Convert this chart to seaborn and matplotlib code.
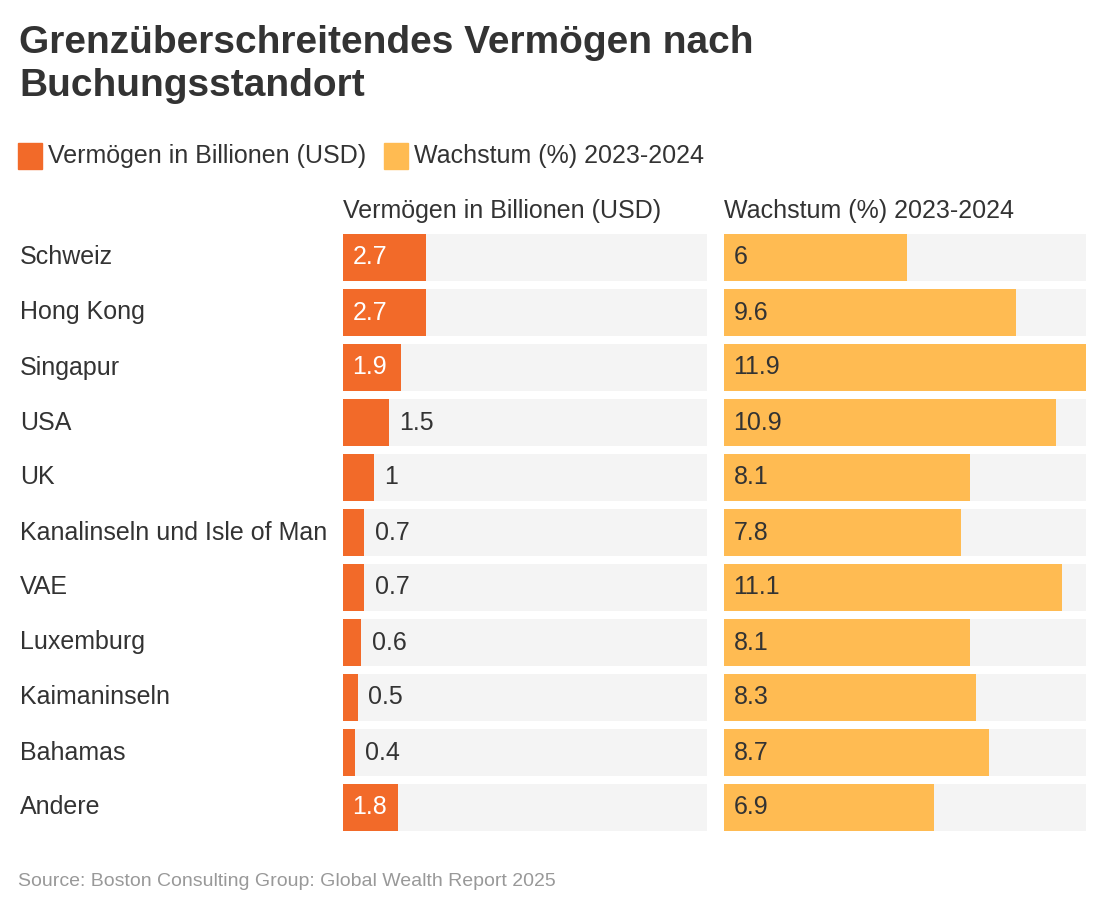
import pandas as pd
import matplotlib.pyplot as plt
import seaborn as sns

# Data
countries = ["Schweiz", "Hong Kong", "Singapur", "USA", "UK",
             "Kanalinseln und Isle of Man", "VAE", "Luxemburg",
             "Kaimaninseln", "Bahamas", "Andere"]
vermoegen = [2.7, 2.7, 1.9, 1.5, 1.0, 0.7, 0.7, 0.6, 0.5, 0.4, 1.8]
wachstum = [6.0, 9.6, 11.9, 10.9, 8.1, 7.8, 11.1, 8.1, 8.3, 8.7, 6.9]
labels_v = ["2.7", "2.7", "1.9", "1.5", "1", "0.7", "0.7", "0.6", "0.5", "0.4", "1.8"]
labels_w = ["6", "9.6", "11.9", "10.9", "8.1", "7.8", "11.1", "8.1", "8.3", "8.7", "6.9"]

col_v = "Vermögen in Billionen (USD)"
col_w = "Wachstum (%) 2023-2024"

df = pd.DataFrame({"land": countries, "v": vermoegen, "w": wachstum})
xmax = max(wachstum)
df["bg"] = xmax

sns.set_theme(style="white")
plt.rcParams['font.family'] = ['Liberation Sans', 'DejaVu Sans']

W, H = 1106, 909
fig = plt.figure(figsize=(W / 100, H / 100), dpi=100)

def px_axes(x0, y0, x1, y1):
    return fig.add_axes([x0 / W, 1 - y1 / H, (x1 - x0) / W, (y1 - y0) / H])

ax_v = px_axes(343, 230, 707, 835)
ax_w = px_axes(724, 230, 1086, 835)

dark = "#333333"
orange = "#F26A29"
yellow = "#FFBB52"
fs = 18

for ax, col, color, labels, inside_white in [
        (ax_v, "v", orange, labels_v, True),
        (ax_w, "w", yellow, labels_w, False)]:
    sns.barplot(data=df, y="land", x="bg", color="#F4F4F4", width=0.87,
                ax=ax, orient="h", saturation=1, linewidth=0)
    sns.barplot(data=df, y="land", x=col, color=color, width=0.87,
                ax=ax, orient="h", saturation=1, linewidth=0)
    ax.set_xlim(0, xmax)
    ax.set_ylim(len(countries) - 0.5, -0.5)
    ax.set_xlabel("")
    ax.set_ylabel("")
    ax.set_xticks([])
    ax.set_yticks([])
    for s in ax.spines.values():
        s.set_visible(False)
    for i, (val, lab) in enumerate(zip(df[col], labels)):
        if inside_white and val >= 1.8:
            ax.text(xmax * 0.026, i, lab, va="center", ha="left",
                    color="white", fontsize=fs)
        elif inside_white:
            ax.text(val + xmax * 0.028, i, lab, va="center", ha="left",
                    color=dark, fontsize=fs)
        else:
            ax.text(xmax * 0.026, i, lab, va="center", ha="left",
                    color=dark, fontsize=fs)

# Row labels
for i, land in enumerate(countries):
    ax_v.text(-323 / 364 * xmax, i, land, va="center", ha="left",
              color=dark, fontsize=fs, clip_on=False)

# Column headers
fig.text(343 / W, 1 - 211 / H, col_v, va="center", ha="left",
         color=dark, fontsize=fs)
fig.text(724 / W, 1 - 211 / H, col_w, va="center", ha="left",
         color=dark, fontsize=fs)

# Title
fig.text(19 / W, 1 - 25 / H, "Grenzüberschreitendes Vermögen nach\nBuchungsstandort",
         va="top", ha="left", color=dark, fontsize=28, fontweight="bold",
         linespacing=1.24)

# Legend
for x0, c, t in [(18, orange, col_v), (384, yellow, col_w)]:
    fig.patches.append(plt.Rectangle((x0 / W, 1 - 169 / H), 24 / W, 26 / H,
                                     transform=fig.transFigure, color=c))
    fig.text((x0 + 30) / W, 1 - 156 / H, t, va="center", ha="left",
             color=dark, fontsize=fs)

# Source
fig.text(18 / W, 1 - 882 / H, "Source: Boston Consulting Group: Global Wealth Report 2025",
         va="center", ha="left", color="#999999", fontsize=14)

fig.savefig("out.png", dpi=100, facecolor="white")
